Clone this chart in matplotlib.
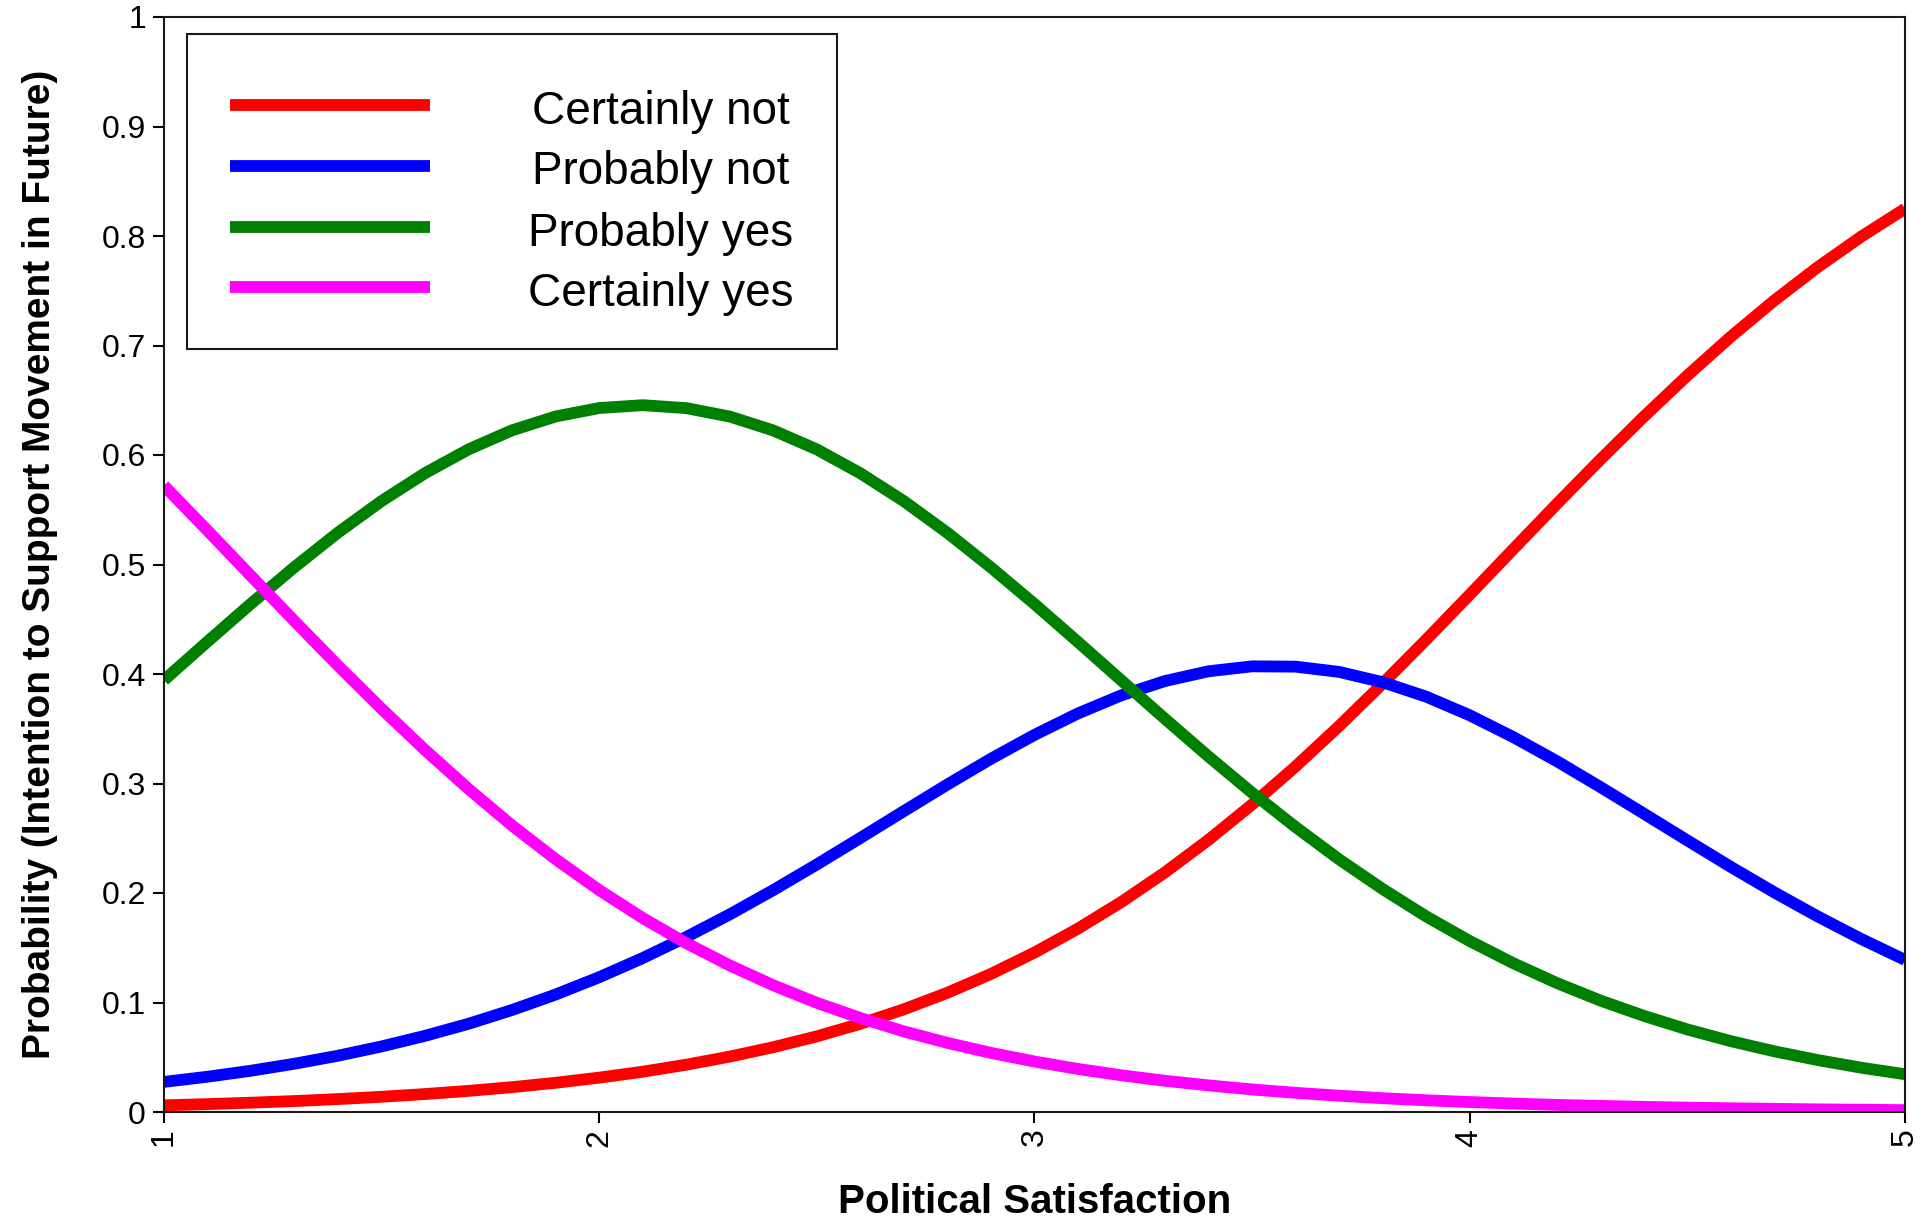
import matplotlib.pyplot as plt
from matplotlib.lines import Line2D
from matplotlib.patches import Rectangle

plt.rcParams['font.family'] = ['Liberation Sans', 'DejaVu Sans']

# predicted probabilities from the ordered model, evaluated on a 0.1 grid
satisfaction = [1.0, 1.1, 1.2, 1.3, 1.4, 1.5, 1.6, 1.7, 1.8, 1.9,
                2.0, 2.1, 2.2, 2.3, 2.4, 2.5, 2.6, 2.7, 2.8, 2.9,
                3.0, 3.1, 3.2, 3.3, 3.4, 3.5, 3.6, 3.7, 3.8, 3.9,
                4.0, 4.1, 4.2, 4.3, 4.4, 4.5, 4.6, 4.7, 4.8, 4.9, 5.0]

certainly_not = [0.0061, 0.0072, 0.0085, 0.0100, 0.0118, 0.0139, 0.0164, 0.0193, 0.0227, 0.0267,
                 0.0314, 0.0368, 0.0432, 0.0506, 0.0592, 0.0691, 0.0806, 0.0938, 0.1089, 0.1261,
                 0.1456, 0.1675, 0.1919, 0.2189, 0.2486, 0.2809, 0.3156, 0.3525, 0.3913, 0.4314,
                 0.4725, 0.5140, 0.5553, 0.5958, 0.6350, 0.6726, 0.7081, 0.7412, 0.7717, 0.7996, 0.8249]

probably_not = [0.0275, 0.0322, 0.0377, 0.0441, 0.0514, 0.0599, 0.0696, 0.0806, 0.0932, 0.1073,
                0.1231, 0.1406, 0.1598, 0.1805, 0.2027, 0.2261, 0.2503, 0.2748, 0.2991, 0.3226,
                0.3444, 0.3640, 0.3806, 0.3936, 0.4025, 0.4070, 0.4067, 0.4019, 0.3925, 0.3793,
                0.3623, 0.3424, 0.3204, 0.2968, 0.2725, 0.2480, 0.2238, 0.2005, 0.1785, 0.1579, 0.1389]

probably_yes = [0.3944, 0.4296, 0.4643, 0.4977, 0.5292, 0.5580, 0.5835, 0.6052, 0.6226, 0.6352,
                0.6429, 0.6455, 0.6428, 0.6351, 0.6224, 0.6051, 0.5833, 0.5578, 0.5289, 0.4973,
                0.4639, 0.4292, 0.3940, 0.3590, 0.3246, 0.2915, 0.2602, 0.2307, 0.2036, 0.1786,
                0.1561, 0.1359, 0.1178, 0.1018, 0.0878, 0.0754, 0.0647, 0.0554, 0.0474, 0.0404, 0.0345]

certainly_yes = [0.5720, 0.5310, 0.4895, 0.4482, 0.4076, 0.3682, 0.3305, 0.2949, 0.2615, 0.2308,
                 0.2026, 0.1771, 0.1542, 0.1338, 0.1157, 0.0997, 0.0858, 0.0736, 0.0631, 0.0540,
                 0.0461, 0.0393, 0.0335, 0.0285, 0.0243, 0.0206, 0.0175, 0.0149, 0.0126, 0.0107,
                 0.0091, 0.0077, 0.0065, 0.0056, 0.0047, 0.0040, 0.0034, 0.0029, 0.0024, 0.0021, 0.0017]

labels = ['Certainly not', 'Probably not', 'Probably yes', 'Certainly yes']
colors = ['#ff0000', '#0000ff', '#008000', '#ff00ff']
series = [certainly_not, probably_not, probably_yes, certainly_yes]

x_ticks = [1, 2, 3, 4, 5]
y_ticks = [0, 0.1, 0.2, 0.3, 0.4, 0.5, 0.6, 0.7, 0.8, 0.9, 1]

# ── figure / axes geometry (pixels at dpi=100) ──
W, H = 1931, 1221
AX_L, AX_R, AX_T, AX_B = 164, 1905, 17, 1112

fig = plt.figure(figsize=(W / 100, H / 100), dpi=100)
ax = fig.add_axes([AX_L / W, 1 - AX_B / H, (AX_R - AX_L) / W, (AX_B - AX_T) / H])


def ax_x(px):
    return (px - AX_L) / (AX_R - AX_L)


def ax_y(py):
    return (AX_B - py) / (AX_B - AX_T)


for vals, col in zip(series, colors):
    ax.plot(satisfaction, vals, color=col, linewidth=8.5, solid_capstyle='butt')

ax.set_xlim(1, 5)
ax.set_ylim(0, 1)
ax.set_xticks(x_ticks)
ax.set_xticklabels([str(t) for t in x_ticks], rotation=90)
ax.set_yticks(y_ticks)
ax.set_yticklabels([f'{t:g}' for t in y_ticks])
ax.tick_params(axis='both', direction='out', length=8, width=1.5,
               labelsize=23, colors='black')
ax.tick_params(axis='x', pad=4)
ax.tick_params(axis='y', pad=5)
for sp in ax.spines.values():
    sp.set_linewidth(1.5)
    sp.set_color('#1a1a1a')

ax.set_xlabel('Political Satisfaction', fontsize=29, fontweight='bold')
ax.set_ylabel('Probability (Intention to Support Movement in Future)',
              fontsize=28, fontweight='bold')
ax.xaxis.set_label_coords(0.5, -0.065)
ax.yaxis.set_label_coords(-0.061, 0.5)

# ── legend box with centred labels ──
box = Rectangle((ax_x(187), ax_y(349)), ax_x(837) - ax_x(187), ax_y(34) - ax_y(349),
                transform=ax.transAxes, facecolor='white', edgecolor='#1a1a1a',
                linewidth=1.5, zorder=5)
ax.add_patch(box)
row_y = [105, 165.5, 226.5, 287]
for lab, col, ry in zip(labels, colors, row_y):
    ax.add_line(Line2D([ax_x(230), ax_x(430)], [ax_y(ry), ax_y(ry)],
                       transform=ax.transAxes, color=col, linewidth=8.5,
                       solid_capstyle='butt', zorder=6))
    ax.text(ax_x(661), ax_y(ry + 19), lab, transform=ax.transAxes,
            ha='center', va='baseline', fontsize=33, zorder=6)

fig.savefig('out.png', dpi=100)
